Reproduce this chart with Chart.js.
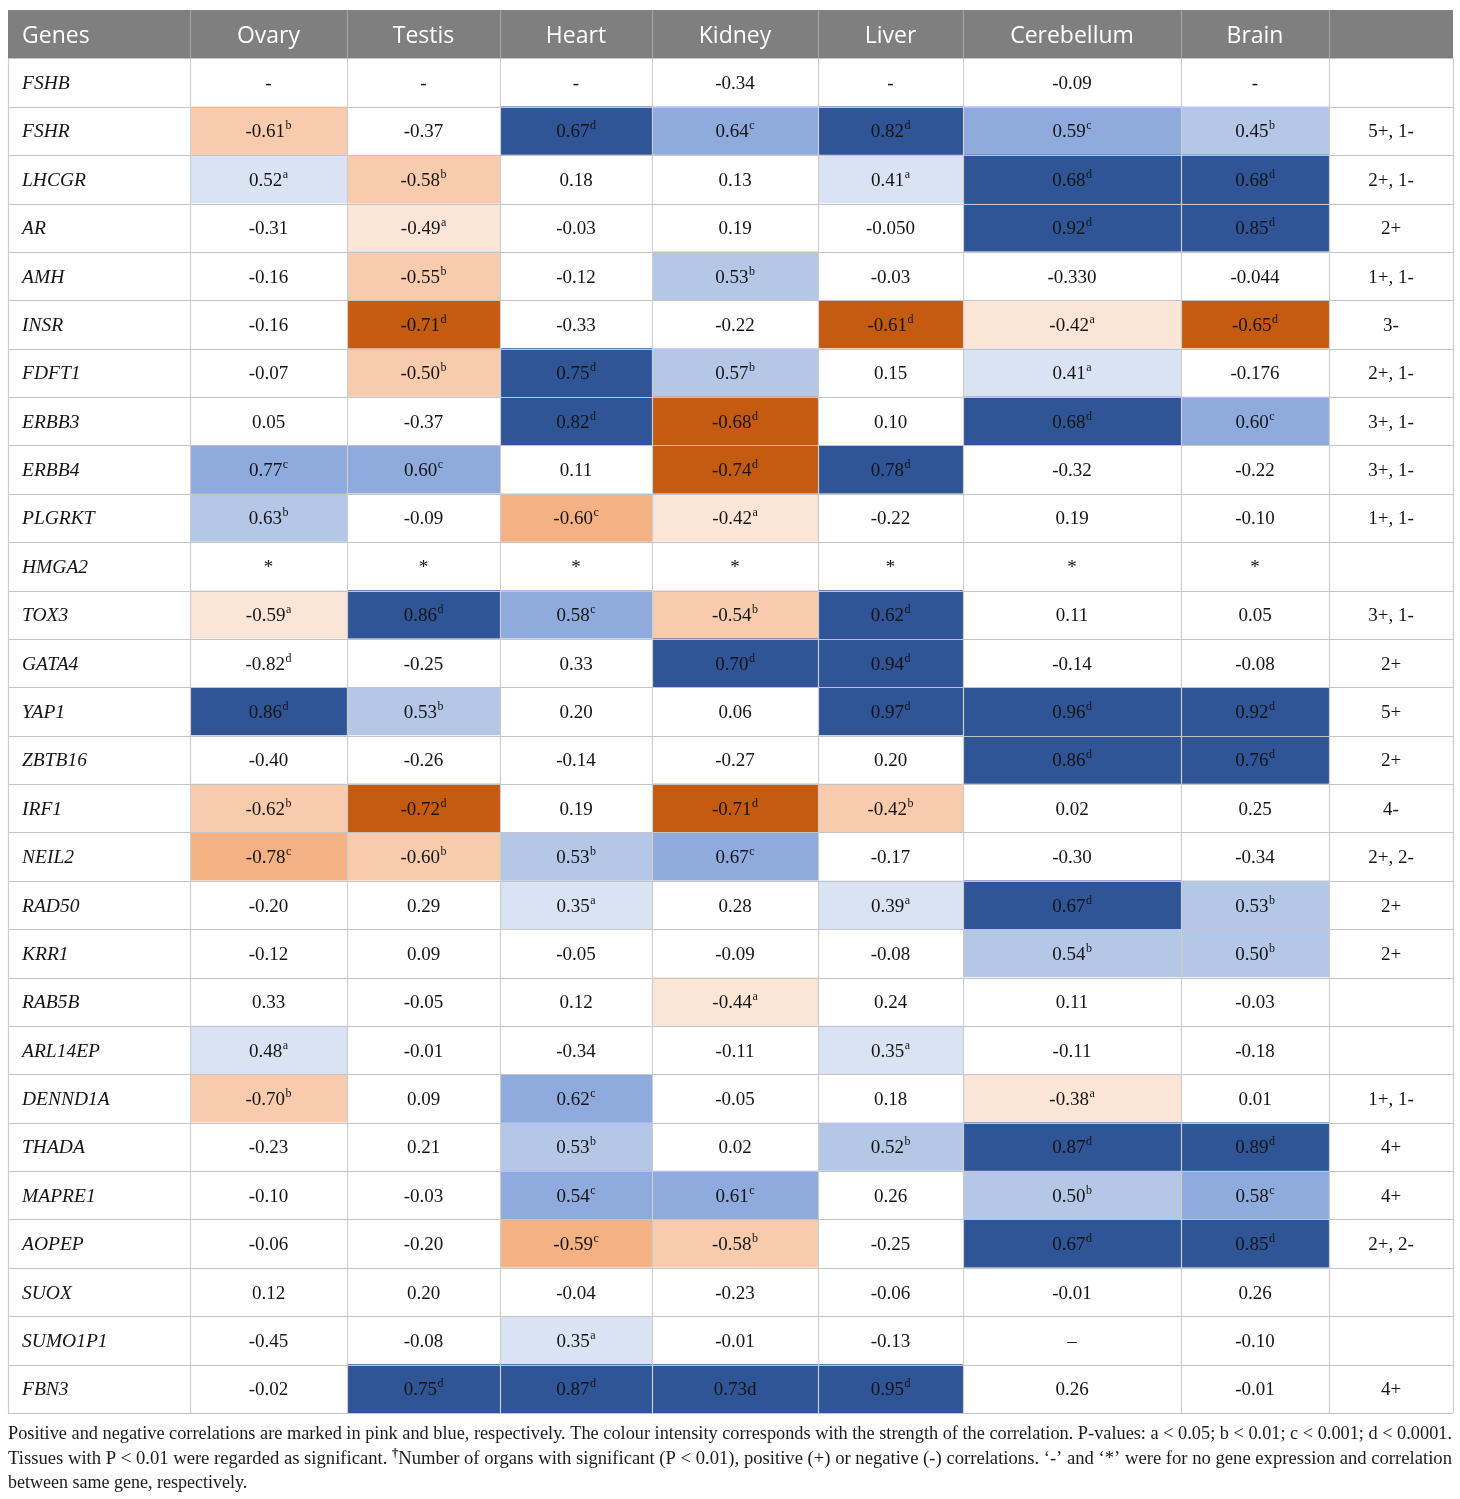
<!DOCTYPE html>
<html>
<head>
<meta charset="utf-8">
<script src="https://cdn.jsdelivr.net/npm/chart.js@4.4.0/dist/chart.umd.min.js"></script>
<style>
  html,body{margin:0;padding:0;background:#fff}
  #wrap{width:1460px;height:1499px;position:relative}
</style>
</head>
<body>
<div id="wrap"><canvas id="tbl"></canvas></div>
<script>
/* correlation table drawn as floating bars, text via plugin */
const tissues = ['Ovary','Testis','Heart','Kidney','Liver','Cerebellum','Brain'];
const genes = ['FSHB','FSHR','LHCGR','AR','AMH','INSR','FDFT1','ERBB3','ERBB4','PLGRKT','HMGA2','TOX3','GATA4','YAP1',
  'ZBTB16','IRF1','NEIL2','RAD50','KRR1','RAB5B','ARL14EP','DENND1A','THADA','MAPRE1','AOPEP','SUOX','SUMO1P1','FBN3'];
// "^x" marks a superscript p-value letter
const values = [
  ['-','-','-','-0.34','-','-0.09','-'],
  ['-0.61^b','-0.37','0.67^d','0.64^c','0.82^d','0.59^c','0.45^b'],
  ['0.52^a','-0.58^b','0.18','0.13','0.41^a','0.68^d','0.68^d'],
  ['-0.31','-0.49^a','-0.03','0.19','-0.050','0.92^d','0.85^d'],
  ['-0.16','-0.55^b','-0.12','0.53^b','-0.03','-0.330','-0.044'],
  ['-0.16','-0.71^d','-0.33','-0.22','-0.61^d','-0.42^a','-0.65^d'],
  ['-0.07','-0.50^b','0.75^d','0.57^b','0.15','0.41^a','-0.176'],
  ['0.05','-0.37','0.82^d','-0.68^d','0.10','0.68^d','0.60^c'],
  ['0.77^c','0.60^c','0.11','-0.74^d','0.78^d','-0.32','-0.22'],
  ['0.63^b','-0.09','-0.60^c','-0.42^a','-0.22','0.19','-0.10'],
  ['*','*','*','*','*','*','*'],
  ['-0.59^a','0.86^d','0.58^c','-0.54^b','0.62^d','0.11','0.05'],
  ['-0.82^d','-0.25','0.33','0.70^d','0.94^d','-0.14','-0.08'],
  ['0.86^d','0.53^b','0.20','0.06','0.97^d','0.96^d','0.92^d'],
  ['-0.40','-0.26','-0.14','-0.27','0.20','0.86^d','0.76^d'],
  ['-0.62^b','-0.72^d','0.19','-0.71^d','-0.42^b','0.02','0.25'],
  ['-0.78^c','-0.60^b','0.53^b','0.67^c','-0.17','-0.30','-0.34'],
  ['-0.20','0.29','0.35^a','0.28','0.39^a','0.67^d','0.53^b'],
  ['-0.12','0.09','-0.05','-0.09','-0.08','0.54^b','0.50^b'],
  ['0.33','-0.05','0.12','-0.44^a','0.24','0.11','-0.03'],
  ['0.48^a','-0.01','-0.34','-0.11','0.35^a','-0.11','-0.18'],
  ['-0.70^b','0.09','0.62^c','-0.05','0.18','-0.38^a','0.01'],
  ['-0.23','0.21','0.53^b','0.02','0.52^b','0.87^d','0.89^d'],
  ['-0.10','-0.03','0.54^c','0.61^c','0.26','0.50^b','0.58^c'],
  ['-0.06','-0.20','-0.59^c','-0.58^b','-0.25','0.67^d','0.85^d'],
  ['0.12','0.20','-0.04','-0.23','-0.06','-0.01','0.26'],
  ['-0.45','-0.08','0.35^a','-0.01','-0.13','\u2013','-0.10'],
  ['-0.02','0.75^d','0.87^d','0.73d','0.95^d','0.26','-0.01']
];
// shade per cell: '.' none, a-d blue levels, A-D orange levels
const shades = [
  '.......','B.dcdcb','aB..add','.A...dd','.B.b...','.D..DAD','.Bdb.a.','..dD.dc',
  'cc.Dd..','b.CA...','.......','AdcBd..','...dd..','db..ddd','.....dd','BD.DB..',
  'CBbc...','..a.adb','.....bb','...A...','a...a..','B.c..A.','..b.bdd','..cc.bc',
  '..CB.dd','.......','..a....','.dddd..'
];
const counts = ['','5+, 1-','2+, 1-','2+','1+, 1-','3-','2+, 1-','3+, 1-','3+, 1-','1+, 1-','','3+, 1-','2+','5+',
  '2+','4-','2+, 2-','2+','2+','','','1+, 1-','4+','4+','2+, 2-','','','4+'];
const footnotes = [
  [['Positive and negative correlations are marked in pink and blue, respectively. The colour intensity corresponds with the strength of the correlation. P-values: a < 0.05; b < 0.01; c < 0.001; d < 0.0001.']],
  [['Tissues with P < 0.01 were regarded as significant. '],['\u2020','sup'],['Number of organs with significant (P < 0.01), positive (+) or negative (-) correlations. \u2018-\u2019 and \u2018*\u2019 were for no gene expression and correlation']],
  [['between same gene, respectively.']]
];

// layout / styles
const colEdges = [8,190,347,500,652,818,963,1181,1329,1453];
const shadeColor = {'.':'#ffffff',a:'#dae3f3',b:'#b4c7e7',c:'#8faadc',d:'#2f5597',
  A:'#fbe5d6',B:'#f8cbad',C:'#f4b183',D:'#c55a11'};
const HEADER_BG = '#7f7f7f';
const SERIF = '"Liberation Serif", "DejaVu Serif", serif';
const SANS = '"Open Sans", "Noto Sans", sans-serif';

const headerLabels = ['Genes', ...tissues, ''];
const rowLabels = ['Genes', ...genes];

const datasets = headerLabels.map((h, c) => ({
  label: h || 'count',
  data: rowLabels.map(() => [colEdges[c], colEdges[c+1]]),
  backgroundColor: rowLabels.map((g, r) => {
    if (r === 0) return HEADER_BG;
    if (c >= 1 && c <= tissues.length) return shadeColor[shades[r-1][c-1]];
    return '#ffffff';
  }),
  borderWidth: 0,
  grouped: false,
  barPercentage: 1,
  categoryPercentage: 1
}));

function drawValue(ctx, str, cx, base){
  const parts = str.split('^');
  ctx.font = '19px ' + SERIF;
  const w1 = ctx.measureText(parts[0]).width;
  let w2 = 0;
  if (parts[1]) { ctx.font = '12px ' + SERIF; w2 = ctx.measureText(parts[1]).width + 0.5; }
  const x0 = cx - (w1 + w2) / 2;
  ctx.textAlign = 'left';
  ctx.font = '19px ' + SERIF;
  ctx.fillText(parts[0], x0, base);
  if (parts[1]) { ctx.font = '12px ' + SERIF; ctx.fillText(parts[1], x0 + w1 + 0.5, base - 8); }
}

const tablePlugin = {
  id: 'tableText',
  afterDatasetsDraw(chart){
    const {ctx, chartArea: a, scales: {x, y}} = chart;
    const half = (y.getPixelForValue(1) - y.getPixelForValue(0)) / 2;
    ctx.save();
    // grid
    ctx.lineWidth = 1.2;
    for (let i = 1; i <= rowLabels.length; i++) {
      const py = Math.round(y.getPixelForValue(i) - half) + 0.5;
      ctx.strokeStyle = '#c4c4c4';
      ctx.beginPath(); ctx.moveTo(a.left, py); ctx.lineTo(a.right, py); ctx.stroke();
    }
    const hb = y.getPixelForValue(0) + half;
    colEdges.forEach((e, k) => {
      const px = Math.round(x.getPixelForValue(e)) + 0.5;
      if (k > 0 && k < colEdges.length - 1) {
        ctx.strokeStyle = '#a3a3a3';
        ctx.beginPath(); ctx.moveTo(px, a.top); ctx.lineTo(px, hb); ctx.stroke();
      }
      ctx.strokeStyle = '#cdcdcd';
      ctx.beginPath(); ctx.moveTo(px, hb); ctx.lineTo(px, a.bottom); ctx.stroke();
    });
    const cxOf = c => x.getPixelForValue((colEdges[c] + colEdges[c+1]) / 2);
    ctx.textBaseline = 'alphabetic';
    // header
    ctx.fillStyle = '#ffffff';
    ctx.font = '23px ' + SANS;
    const hy = y.getPixelForValue(0) + 9;
    headerLabels.forEach((h, c) => {
      if (!h) return;
      if (c === 0) { ctx.textAlign = 'left'; ctx.fillText(h, x.getPixelForValue(colEdges[0]) + 14, hy); }
      else { ctx.textAlign = 'center'; ctx.fillText(h, cxOf(c), hy); }
    });
    // body
    ctx.fillStyle = '#141414';
    genes.forEach((g, r) => {
      const cy = y.getPixelForValue(r + 1);
      ctx.textAlign = 'left';
      ctx.font = 'italic 19.5px ' + SERIF;
      ctx.fillText(g, x.getPixelForValue(colEdges[0]) + 14, cy + 6.5);
      values[r].forEach((v, c) => drawValue(ctx, v, cxOf(c + 1), cy + 6.5));
      if (counts[r]) {
        ctx.textAlign = 'center';
        ctx.font = '19px ' + SERIF;
        ctx.fillText(counts[r], cxOf(headerLabels.length - 1), cy + 6.5);
      }
    });
    // footnotes
    ctx.fillStyle = '#1a1a1a';
    const left = x.getPixelForValue(colEdges[0]);
    const full = x.getPixelForValue(colEdges[colEdges.length - 1]) - 1 - left;
    footnotes.forEach((segs, li) => {
      const base = a.bottom + 26 + li * 24.5;
      const fontFor = s => s[1] === 'sup' ? 'bold 12px ' + SERIF : '18px ' + SERIF;
      let tot = 0;
      segs.forEach(s => { ctx.font = fontFor(s); tot += ctx.measureText(s[0]).width; });
      const k = li < footnotes.length - 1 ? full / tot : 1;
      ctx.save();
      ctx.translate(left, base);
      ctx.scale(k, 1);
      ctx.textAlign = 'left';
      let px = 0;
      segs.forEach(s => {
        ctx.font = fontFor(s);
        ctx.fillText(s[0], px, s[1] === 'sup' ? -7 : 0);
        px += ctx.measureText(s[0]).width;
      });
      ctx.restore();
    });
    ctx.restore();
  }
};

new Chart(document.getElementById('tbl'), {
  type: 'bar',
  data: { labels: rowLabels, datasets },
  options: {
    indexAxis: 'y',
    animation: false,
    responsive: true,
    maintainAspectRatio: false,
    layout: { padding: { left: 8, right: 7, top: 10, bottom: 86 } },
    scales: {
      x: { type: 'linear', min: colEdges[0], max: colEdges[colEdges.length - 1], display: false },
      y: { type: 'category', display: false, offset: true }
    },
    plugins: { legend: { display: false }, tooltip: { enabled: false } }
  },
  plugins: [tablePlugin]
});
</script>
</body>
</html>
